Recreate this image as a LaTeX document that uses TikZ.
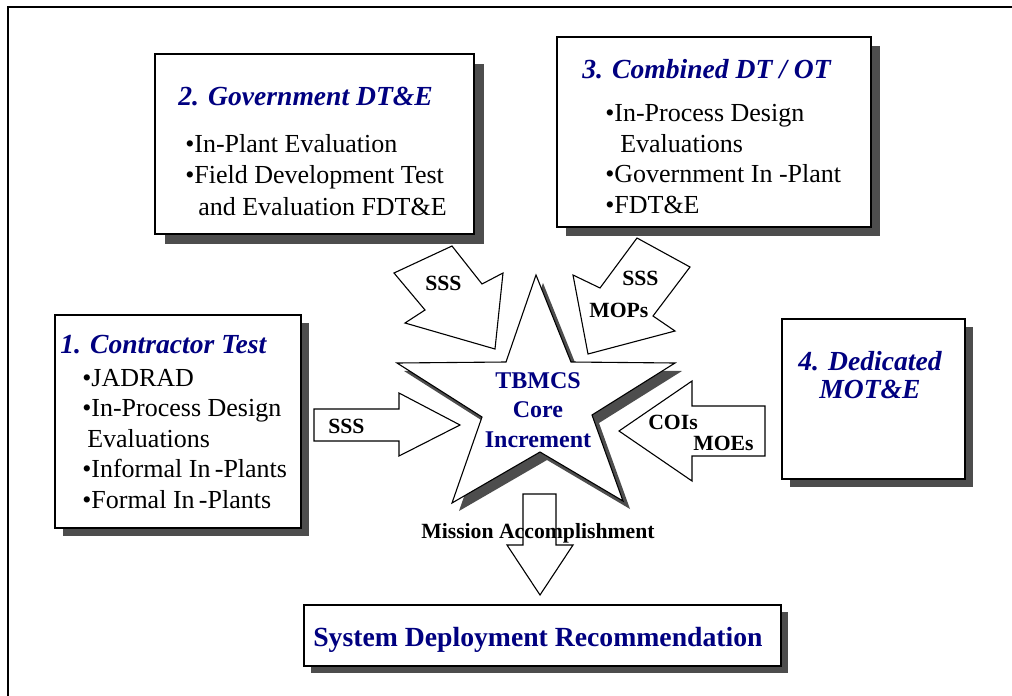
\documentclass[tikz,border=0pt]{standalone}
\usepackage{fontspec}
\setmainfont{Liberation Serif}
\usepackage{tikz}
\usetikzlibrary{shadows}
\usepackage{tkz-euclide}
\definecolor{navy}{RGB}{0,0,128}
\definecolor{shadowgray}{RGB}{77,77,77}

\begin{document}
\begin{tikzpicture}[x=1pt,y=-1pt,semithick,
  panel/.style={draw,line width=1.5pt,fill=white,anchor=north west,inner sep=0pt,outer sep=0pt,
    drop shadow={shadow xshift=#1pt,shadow yshift=-#1pt,fill=shadowgray,opacity=1}},
  heading/.style={font=\fontsize{27.6}{28}\selectfont\bfseries\itshape,text=navy,anchor=base west,inner sep=0pt},
  items/.style={font=\fontsize{26}{30.5}\selectfont,align=left,anchor=base west,inner sep=0pt},
  tag/.style={font=\fontsize{21.7}{24}\selectfont\bfseries,anchor=base west,inner sep=0pt},
  blockarrow/.style={draw,fill=white,line width=1.1pt,line join=miter}]
\useasboundingbox (0,0) rectangle (1012,696);
\draw[line width=2.4pt] (1012,7) -- (8,7) -- (8,696);
% boxes (multi-line texts sit on the baseline of their last line)
\node[panel=8,minimum width=246pt,minimum height=213pt] (contractor) at (55,315) {};
\node[panel=10,minimum width=319pt,minimum height=180pt] (government) at (155,54) {};
\node[panel=9,minimum width=314pt,minimum height=190pt] (combined) at (557,37) {};
\node[panel=8,minimum width=183pt,minimum height=160pt] (dedicated) at (782,319) {};
\node[panel=7,minimum width=477pt,minimum height=61pt] (deployment) at (304,605) {};
\node[heading] (contitle) at (60,353) {1. Contractor Test};
\node[items] (conlist) at (82,508) {\textbullet JADRAD\\\textbullet In-Process Design\\\hspace*{5pt}Evaluations\\
  \textbullet Informal In\,-Plants\\\textbullet Formal In\,-Plants};
\node[heading] (govtitle) at (178,105) {2. Government DT\&E};
\node[items,font=\fontsize{26}{31.5}\selectfont] (govlist) at (185,215) {\textbullet In-Plant Evaluation\\
  \textbullet Field Development Test\\\hspace*{13pt}and Evaluation FDT\&E};
\node[heading] (comtitle) at (582,78) {3. Combined DT / OT};
\node[items] (comlist) at (605,213) {\textbullet In-Process Design\\\hspace*{15pt}Evaluations\\
  \textbullet Government In -Plant\\\textbullet FDT\&E};
\node[heading,align=center,anchor=base] (dedtitle) at (870,398) {4. Dedicated\\MOT\&E};
\node[heading,font=\fontsize{27.7}{28}\selectfont\bfseries,anchor=base west] (deptitle) at (313,646)
  {System Deployment Recommendation};
% star and block arrows
\tkzDefPoints{536/275/S1,571/362/S2,675/363/S3,592/415/S4,623/501/S5,
  540/452/S6,452/503/S7,482/417/S8,397/363/S9,506/362/S10}
\tkzDefPoints{394/273/P1,452/246/P2,482/284/P3,503/273/P4,495/349/P5,405/323/P6,425/310/P7}
\tkzDefPoints{637/238/Q1,690/267/Q2,653/316/Q3,675/331/Q4,588/354/Q5,573/275/Q6,600/288/Q7}
\tkzDefPoints{314/409/L1,399/409/L2,399/393/L3,460/425/L4,399/456/L5,399/441/L6,314/441/L7}
\tkzDefPoints{765/406/R1,692/406/R2,692/381/R3,619/431/R4,692/481/R5,692/456/R6,765/456/R7}
\tkzDefPoints{523/494/M1,556/494/M2,556/545/M3,573/545/M4,540/595/M5,507/545/M6,523/545/M7}
\begin{scope}[transform canvas={shift={(7,8)}}]
\fill[shadowgray](S1)--(S2)--(S3)--(S4)--(S5)--(S6)--(S7)--(S8)--(S9)--(S10)--cycle;
\end{scope}
\draw[blockarrow](S1)--(S2)--(S3)--(S4)--(S5)--(S6)--(S7)--(S8)--(S9)--(S10)--cycle;
\draw[blockarrow](P1)--(P2)--(P3)--(P4)--(P5)--(P6)--(P7)--cycle;
\draw[blockarrow](Q1)--(Q2)--(Q3)--(Q4)--(Q5)--(Q6)--(Q7)--cycle;
\draw[blockarrow](L1)--(L2)--(L3)--(L4)--(L5)--(L6)--(L7)--cycle;
\draw[blockarrow](R1)--(R2)--(R3)--(R4)--(R5)--(R6)--(R7)--cycle;
\draw[blockarrow](M1)--(M2)--(M3)--(M4)--(M5)--(M6)--(M7)--cycle;
\node[font=\fontsize{24}{29.5}\selectfont\bfseries,text=navy,align=center,anchor=base,inner sep=0pt]
  (core) at (538,447) {TBMCS\\Core\\Increment};
\node[tag] (sssA) at (425,290) {SSS};
\node[tag] (sssB) at (622,285) {SSS};
\node[tag] (mops) at (589,317) {MOPs};
\node[tag] (sssC) at (328,433) {SSS};
\node[tag] (cois) at (648,429) {COIs};
\node[tag] (moes) at (693,450) {MOEs};
\node[tag] (mission) at (421,538) {Mission Accomplishment};
\end{tikzpicture}
\end{document}
